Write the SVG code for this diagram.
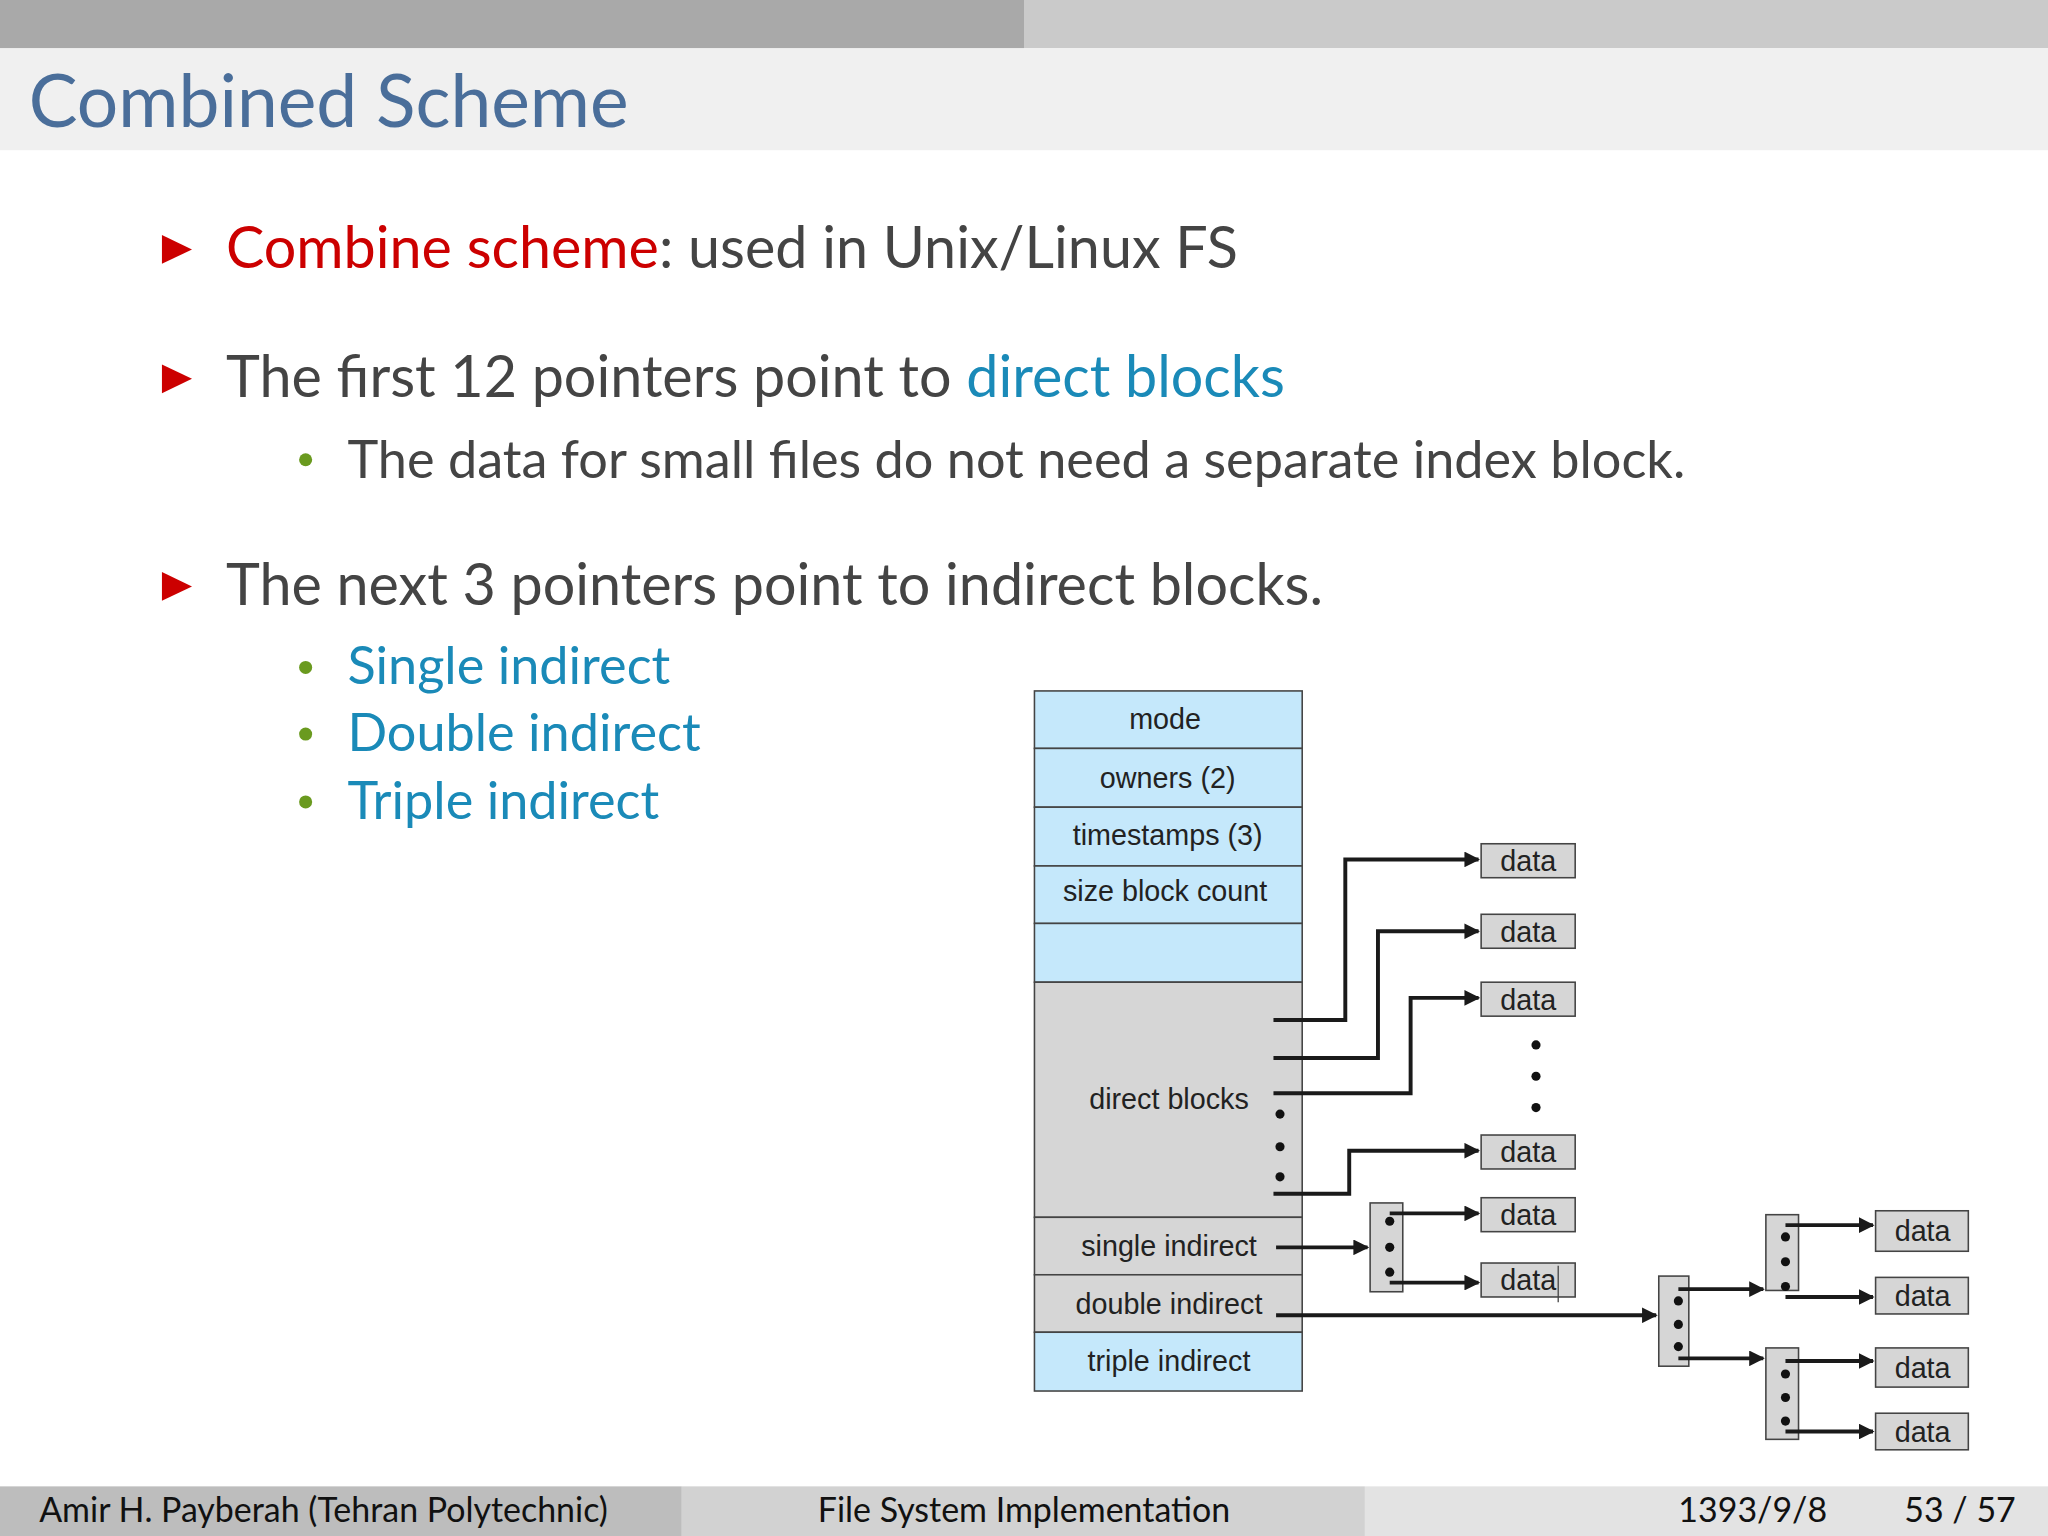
<svg xmlns="http://www.w3.org/2000/svg" width="2048" height="1536" viewBox="0 0 2048 1536">
<defs>
<marker id="ah" viewBox="0 0 10 10" refX="9" refY="5" markerWidth="4" markerHeight="4" orient="auto" markerUnits="strokeWidth"><path d="M0,0L10,5L0,10z" fill="#1a1a1a"/></marker>
<style>
.t{font-family:Lato,"Open Sans",sans-serif;fill:#444}
.d{font-family:"Liberation Sans",Arial,sans-serif;font-size:22px;fill:#222;text-anchor:middle}
.blue{fill:#c5e8fb;stroke:#444;stroke-width:1.2}
.gray{fill:#d6d6d6;stroke:#444;stroke-width:1.2}
.c{stroke:#1a1a1a;stroke-width:3;fill:none}
.a{stroke:#1a1a1a;stroke-width:3;fill:none;marker-end:url(#ah)}
</style>
</defs>
<rect width="2048" height="1536" fill="#fff"/>
<g transform="scale(1.306122)">
<g id="header">
<rect x="0" y="0" width="784" height="37" fill="#a9a9a9"/>
<rect x="784" y="0" width="784" height="37" fill="#cacaca"/>
<rect x="0" y="37" width="1568" height="78" fill="#f0f0f0"/>
<text x="22" y="97" class="t" font-size="56" style="fill:#4a6e9a">Combined Scheme</text>
</g>
<g id="bullets">
<path d="M124,180L147,191L124,202z" fill="#c00"/>
<text x="173" y="205" class="t" font-size="44"><tspan fill="#c00" style="fill:#c00">Combine scheme</tspan>:  used in Unix/Linux FS</text>
<path d="M124,279L147,290L124,301z" fill="#c00"/>
<text x="173" y="304" class="t" font-size="44">The first 12 pointers point to <tspan style="fill:#1a8ab8">direct blocks</tspan></text>
<circle cx="234" cy="352" r="5" fill="#6a9a1f"/>
<text x="266" y="366" class="t" font-size="40">The data for small files do not need a separate index block.</text>
<path d="M124,438L147,449L124,460z" fill="#c00"/>
<text x="173" y="463" class="t" font-size="44">The next 3 pointers point to indirect blocks.</text>
<circle cx="234" cy="511" r="5" fill="#6a9a1f"/>
<text x="266" y="524" class="t" font-size="40" style="fill:#1a8ab8">Single indirect</text>
<circle cx="234" cy="562" r="5" fill="#6a9a1f"/>
<text x="266" y="575" class="t" font-size="40" style="fill:#1a8ab8">Double indirect</text>
<circle cx="234" cy="614" r="5" fill="#6a9a1f"/>
<text x="266" y="627" class="t" font-size="40" style="fill:#1a8ab8">Triple indirect</text>
</g>
<g id="inode">
<rect x="792" y="529" width="205" height="44" class="blue"/><text x="892" y="558" class="d">mode</text>
<rect x="792" y="573" width="205" height="45" class="blue"/><text x="894" y="603" class="d">owners (2)</text>
<rect x="792" y="618" width="205" height="45" class="blue"/><text x="894" y="647" class="d">timestamps (3)</text>
<rect x="792" y="663" width="205" height="44" class="blue"/><text x="892" y="690" class="d">size block count</text>
<rect x="792" y="707" width="205" height="45" class="blue"/>
<rect x="792" y="752" width="205" height="180" class="gray"/><text x="895" y="849" class="d">direct blocks</text>
<rect x="792" y="932" width="205" height="44" class="gray"/><text x="895" y="962" class="d">single indirect</text>
<rect x="792" y="976" width="205" height="44" class="gray"/><text x="895" y="1006" class="d">double indirect</text>
<rect x="792" y="1020" width="205" height="45" class="blue"/><text x="895" y="1050" class="d">triple indirect</text>
<g fill="#111"><circle cx="980" cy="853" r="3.5"/><circle cx="980" cy="878" r="3.5"/><circle cx="980" cy="901" r="3.5"/></g>
</g>
<g id="data-blocks">
<rect x="1134" y="646" width="72" height="26" class="gray"/><text x="1170" y="667" class="d">data</text>
<rect x="1134" y="700" width="72" height="26" class="gray"/><text x="1170" y="721" class="d">data</text>
<rect x="1134" y="752" width="72" height="26" class="gray"/><text x="1170" y="773" class="d">data</text>
<rect x="1134" y="869" width="72" height="26" class="gray"/><text x="1170" y="890" class="d">data</text>
<rect x="1134" y="917" width="72" height="26" class="gray"/><text x="1170" y="938" class="d">data</text>
<rect x="1134" y="967" width="72" height="26" class="gray"/><text x="1170" y="988" class="d">data</text>
<line x1="1193" y1="969" x2="1193" y2="997" stroke="#444" stroke-width="1"/>
<rect x="1436" y="927" width="71" height="31" class="gray"/><text x="1472" y="950" class="d">data</text>
<rect x="1436" y="978" width="71" height="28" class="gray"/><text x="1472" y="1000" class="d">data</text>
<rect x="1436" y="1032" width="71" height="30" class="gray"/><text x="1472" y="1055" class="d">data</text>
<rect x="1436" y="1082" width="71" height="28" class="gray"/><text x="1472" y="1104" class="d">data</text>
<g fill="#111"><circle cx="1176" cy="800" r="3.5"/><circle cx="1176" cy="824" r="3.5"/><circle cx="1176" cy="848" r="3.5"/></g>
</g>
<g id="index-blocks">
<rect x="1049" y="921" width="25" height="68" class="gray"/>
<rect x="1270" y="977" width="23" height="69" class="gray"/>
<rect x="1352" y="930" width="25" height="58" class="gray"/>
<rect x="1352" y="1032" width="25" height="70" class="gray"/>
<g fill="#111">
<circle cx="1064" cy="935" r="3.5"/><circle cx="1064" cy="955" r="3.5"/><circle cx="1064" cy="974" r="3.5"/>
<circle cx="1285" cy="996" r="3.5"/><circle cx="1285" cy="1014" r="3.5"/><circle cx="1285" cy="1031" r="3.5"/>
<circle cx="1367" cy="947" r="3.5"/><circle cx="1367" cy="966" r="3.5"/><circle cx="1367" cy="985" r="3.5"/>
<circle cx="1367" cy="1052" r="3.5"/><circle cx="1367" cy="1070" r="3.5"/><circle cx="1367" cy="1088" r="3.5"/>
</g>
</g>
<g id="connectors">
<path d="M975,781H1030V658H1132" class="a"/>
<path d="M975,810H1055V713H1132" class="a"/>
<path d="M975,837H1080V764H1132" class="a"/>
<path d="M975,914H1033V881H1132" class="a"/>
<path d="M977,955H1047" class="a"/>
<path d="M1064,929H1132" class="a"/>
<path d="M1064,982H1132" class="a"/>
<path d="M977,1007H1268" class="a"/>
<path d="M1285,987H1350" class="a"/>
<path d="M1285,1040H1350" class="a"/>
<path d="M1367,938H1434" class="a"/>
<path d="M1367,993H1434" class="a"/>
<path d="M1367,1042H1434" class="a"/>
<path d="M1367,1096H1434" class="a"/>
</g>
<g id="footer">
<rect x="0" y="1138" width="522" height="38" fill="#bdbdbd"/>
<rect x="522" y="1138" width="523" height="38" fill="#d2d2d2"/>
<rect x="1045" y="1138" width="523" height="38" fill="#e3e3e3"/>
<text x="30" y="1165" class="t" font-size="26" style="fill:#111">Amir H. Payberah  (Tehran Polytechnic)</text>
<text x="784" y="1165" class="t" font-size="26" text-anchor="middle" style="fill:#111">File System Implementation</text>
<text x="1285" y="1165" class="t" font-size="26" style="fill:#111">1393/9/8</text>
<text x="1458" y="1165" class="t" font-size="26" style="fill:#111">53 / 57</text>
</g>
</g>
</svg>
